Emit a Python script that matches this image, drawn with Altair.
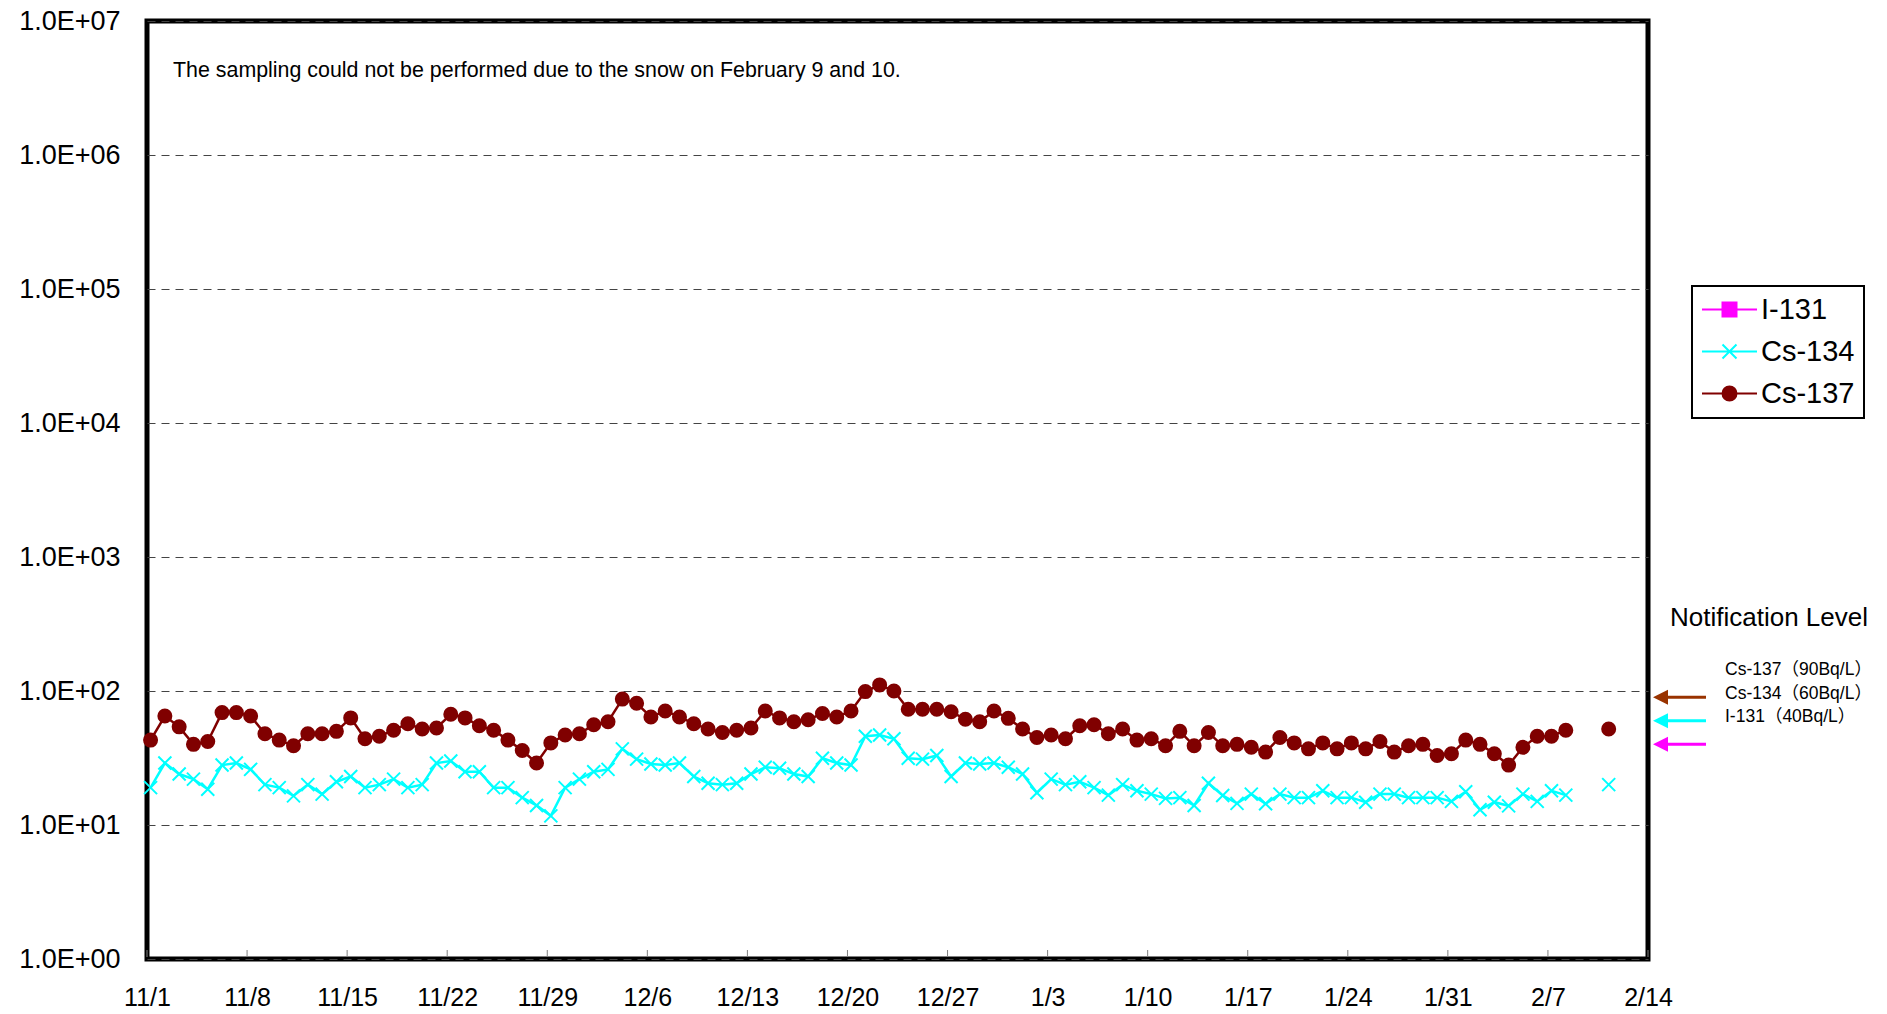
import altair as alt
import pandas as pd

# ---------------- data ----------------
START = pd.Timestamp("2013-11-01")
SAMPLING_TIME = "T06:00:00Z"
# daily sampling 11/1 .. 2/8, none on 2/9 and 2/10 (snow), then 2/11
DAY_OFFSETS = list(range(0, 100)) + [102]
SEGMENTS = [0] * 100 + [1]

CS137 = [43, 65, 54, 40, 42, 69, 69, 65, 48, 43,
         39, 48, 48, 50, 63, 44, 46, 51, 57, 52,
         53, 67, 63, 55, 51, 43, 36, 29, 41, 47,
         48, 56, 59, 87, 81, 64, 71, 64, 57, 52,
         49, 51, 53, 71, 63, 59, 61, 68, 64, 71,
         99, 111, 100, 73, 73, 73, 70, 61.5, 59, 71,
         62.5, 52, 45, 47, 44, 55, 56, 48, 52, 43,
         44, 39, 50, 39, 49, 39, 40, 38, 35, 45,
         41, 37, 41, 37, 41, 37, 42, 35, 39, 40,
         33, 34, 43, 40, 34, 28, 38, 46, 46, 51,
         52]
CS134 = [19, 29, 24, 22, 18.5, 28, 29, 26, 20, 19,
         16.5, 20, 17, 21, 23, 19, 20, 22, 19, 20,
         29, 30, 25, 25, 19, 19, 16, 14, 11.7, 19,
         22, 25, 26, 37, 31, 28.5, 28, 29, 23, 20.5,
         20, 20.5, 24, 27, 26.5, 24, 23, 31.5, 29, 28,
         46, 47, 44, 31.5, 31, 33, 23, 29, 28.5, 29,
         27, 24, 17.4, 22, 20, 21, 19, 16.7, 20, 18,
         17, 15.8, 16, 14, 20.5, 16.6, 14.5, 17, 14.4, 17,
         16, 16, 18, 16, 16, 14.8, 17, 17, 16, 16,
         16, 15, 17.7, 13, 14.8, 13.9, 17, 15, 18, 16.7,
         20]

SERIES = ["I-131", "Cs-134", "Cs-137"]
COLORS = ["#FF00FF", "#00FFFF", "#800000"]

TICK_OFFSETS = list(range(0, 106, 7))  # 11/1 ... 2/14 weekly
Y_TICKS = [1, 10, 100, 1000, 10000, 100000, 1000000, 10000000]

LEVEL_NUCLIDES = ["Cs-137", "Cs-134", "I-131"]
LEVEL_VALUES = [90, 60, 40]
LEVEL_LABELS = ["Cs-137（90Bq/L）", "Cs-134（60Bq/L）", "I-131（40Bq/L）"]
LEVEL_COLORS = ["#993300", "#00FFFF", "#FF00FF"]

NOTIF_TITLE = "Notification Level"
NOTE = "The sampling could not be performed due to the snow on February 9 and 10."

# ---------------- tables ----------------
dates = [(START + pd.Timedelta(days=d)).strftime("%Y-%m-%d") + SAMPLING_TIME for d in DAY_OFFSETS]
rows = []
for name, vals in (("Cs-134", CS134), ("Cs-137", CS137)):
    for dt, v, s in zip(dates, vals, SEGMENTS):
        rows.append({"date": dt, "value": v, "nuclide": name, "seg": s})
df = pd.DataFrame(rows)

tick_dates = [(START + pd.Timedelta(days=d)) for d in TICK_OFFSETS]
ticks_df = pd.DataFrame({"date": [t.strftime("%Y-%m-%d") for t in tick_dates]})
levels_df = pd.DataFrame({"nuclide": LEVEL_NUCLIDES, "value": LEVEL_VALUES,
                          "label": LEVEL_LABELS, "color": LEVEL_COLORS})

FONT = "Liberation Sans, Arial, Noto Sans CJK JP"

X_SCALE = alt.Scale(type="utc", domain=[
    alt.DateTime(year=2013, month=11, date=1, utc=True),
    alt.DateTime(year=2014, month=2, date=14, utc=True)])
X_AXIS = alt.Axis(values=[alt.DateTime(year=t.year, month=t.month, date=t.day, utc=True) for t in tick_dates],
                  labelExpr="utcFormat(datum.value, '%-m/%-d')", labelFontSize=25, labelPadding=26,
                  ticks=False, domain=False, grid=False, title=None, labelFlush=False,
                  labelOverlap=False, labelColor="black", labelFont=FONT)
Y_SCALE = alt.Scale(type="log", domain=[1, 10000000], nice=False)
Y_AXIS = alt.Axis(values=Y_TICKS, labelExpr="'1.0E+0' + round(log(datum.value)/LN10)",
                  labelFontSize=27, labelPadding=27, ticks=False, domain=False, grid=True,
                  gridDash=[8, 6], gridColor="#444444", gridWidth=1, title=None,
                  labelColor="black", labelFont=FONT, labelOverlap=False)

X = alt.X("date:T", scale=X_SCALE, axis=X_AXIS)
Y = alt.Y("value:Q", scale=Y_SCALE, axis=Y_AXIS)

X_PATH = "M-1,-1L1,1M-1,1L1,-1"
L = 3.93
LEG_PATHS = [
    f"M-{L},0H{L}M-1,-1H1V1H-1Z",
    f"M-{L},0H{L}M-1,-1L1,1M-1,1L1,-1",
    f"M-{L},0H{L}M1,0A1,1,0,1,1,-1,0A1,1,0,1,1,1,0Z",
]

lines = alt.Chart(df).mark_line(strokeWidth=2.5).encode(
    x=X, y=Y,
    color=alt.Color("nuclide:N", scale=alt.Scale(domain=SERIES, range=COLORS), legend=None),
    detail="seg:N",
)

points = alt.Chart(df).mark_point(filled=True, size=169, strokeWidth=2, opacity=1).encode(
    x=X, y=Y,
    shape=alt.Shape("nuclide:N", scale=alt.Scale(domain=SERIES, range=["square", X_PATH, "circle"]), legend=None),
    fill=alt.Fill("nuclide:N", scale=alt.Scale(domain=SERIES, range=COLORS), legend=None),
    stroke=alt.Stroke("nuclide:N", scale=alt.Scale(domain=SERIES, range=COLORS), legend=None),
)

def leg():
    return alt.Legend(title=None, orient="none", legendX=1545, legendY=265,
                      symbolSize=196, symbolStrokeWidth=2, symbolOffset=14, labelOffset=17,
                      labelFontSize=29, labelFont=FONT, labelColor="black", padding=9,
                      rowPadding=12, strokeColor="black", fillColor="white",
                      symbolOpacity=1, labelLimit=0)

legend_layer = alt.Chart(df).mark_point(filled=True, clip=True, strokeWidth=2).encode(
    x=X, y=alt.value(-5000),
    shape=alt.Shape("nuclide:N", scale=alt.Scale(domain=SERIES, range=LEG_PATHS), legend=leg()),
    fill=alt.Fill("nuclide:N", scale=alt.Scale(domain=SERIES, range=COLORS), legend=leg()),
    stroke=alt.Stroke("nuclide:N", scale=alt.Scale(domain=SERIES, range=COLORS), legend=leg()),
)

tick_rules = alt.Chart(ticks_df).mark_rule(color="#808080", strokeWidth=1).encode(
    x=X, y=alt.value(929), y2=alt.value(936))

arrow_lines = alt.Chart(levels_df).mark_rule(strokeWidth=3).encode(
    x=alt.value(1513), x2=alt.value(1559), y=Y,
    stroke=alt.Stroke("color:N", scale=None, legend=None))

arrow_heads = alt.Chart(levels_df).mark_point(shape="M-1,0L1,-1L1,1Z", filled=True, size=225,
                                              strokeWidth=0, opacity=1).encode(
    x=alt.value(1513.5), y=Y, fill=alt.Fill("color:N", scale=None, legend=None))

level_text = alt.Chart(levels_df).mark_text(align="left", baseline="middle", fontSize=17.5,
                                            dy=-27, font=FONT, color="black").encode(
    x=alt.value(1578), y=Y, text="label:N")

notif_text = alt.Chart(pd.DataFrame({"t": [NOTIF_TITLE]})).mark_text(
    align="left", baseline="middle", fontSize=26, font=FONT, color="black").encode(
    x=alt.value(1523), y=alt.value(597), text="t:N")

note_text = alt.Chart(pd.DataFrame({"t": [NOTE]})).mark_text(
    align="left", baseline="middle", fontSize=21.4, font=FONT, color="black").encode(
    x=alt.value(26), y=alt.value(50), text="t:N")

chart = alt.layer(
    lines, points, legend_layer, tick_rules, arrow_lines, arrow_heads,
    level_text, notif_text, note_text,
).resolve_scale(
    shape="independent", fill="independent", stroke="independent"
).properties(
    width=1501, height=938,
    autosize=alt.AutoSizeParams(type="none"),
    padding={"left": 139, "top": 13, "right": 231, "bottom": 56},
).configure(
    font="Liberation Sans"
).configure_view(
    stroke="black", strokeWidth=5
).configure_legend(
    strokeWidth=2
)

chart.save("out.html", embed_options={"renderer": "svg", "actions": False})
